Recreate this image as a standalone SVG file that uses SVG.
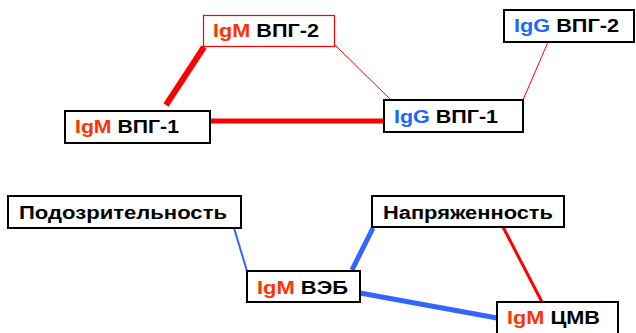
<svg xmlns="http://www.w3.org/2000/svg" width="636" height="333" viewBox="0 0 636 333">
  <style>
    .box { fill: #ffffff; stroke: #000000; stroke-width: 2; }
    .box-red { fill: #ffffff; stroke: #ff0000; stroke-width: 1.2; }
    .lbl { font-family: "Liberation Sans", Arial, sans-serif; font-weight: bold; font-size: 18px; fill: #000000; }
    .igm { fill: #ff3300; }
    .igg { fill: #1a66ff; }
    .red { stroke: #ff0000; fill: none; }
    .blue { stroke: #3366ff; fill: none; }
  </style>
  <rect width="636" height="333" fill="#ffffff"/>

  <g id="connectors">
    <line class="red" x1="166" y1="105" x2="204" y2="47" stroke-width="6"/>
    <line class="red" x1="210" y1="121" x2="384" y2="121" stroke-width="5"/>
    <line class="red" x1="334" y1="44" x2="391" y2="100" stroke-width="1"/>
    <line class="red" x1="548" y1="42" x2="523" y2="100" stroke-width="1"/>
    <line class="blue" x1="234" y1="228" x2="247" y2="271" stroke-width="2"/>
    <line class="blue" x1="352" y1="270" x2="373" y2="228" stroke-width="5"/>
    <line class="blue" x1="360" y1="293" x2="497" y2="318" stroke-width="5"/>
    <line class="red" x1="503" y1="227" x2="542" y2="302" stroke-width="3"/>
  </g>

  <g id="igm-vpg2">
    <rect class="box-red" x="203.5" y="15.5" width="131" height="31"/>
    <text class="lbl" x="213" y="37" textLength="106" lengthAdjust="spacingAndGlyphs"><tspan class="igm">IgM</tspan> ВПГ-2</text>
  </g>

  <g id="igg-vpg2">
    <rect class="box" x="504" y="10" width="130" height="32"/>
    <text class="lbl" x="514" y="32" textLength="105" lengthAdjust="spacingAndGlyphs"><tspan class="igg">IgG</tspan> ВПГ-2</text>
  </g>

  <g id="igm-vpg1">
    <rect class="box" x="65" y="111" width="145" height="32"/>
    <text class="lbl" x="75" y="133" textLength="104" lengthAdjust="spacingAndGlyphs"><tspan class="igm">IgM</tspan> ВПГ-1</text>
  </g>

  <g id="igg-vpg1">
    <rect class="box" x="384" y="100" width="139" height="32"/>
    <text class="lbl" x="394" y="123" textLength="104" lengthAdjust="spacingAndGlyphs"><tspan class="igg">IgG</tspan> ВПГ-1</text>
  </g>

  <g id="suspicion">
    <rect class="box" x="8" y="196" width="233" height="32"/>
    <text class="lbl" x="19" y="219" textLength="208" lengthAdjust="spacingAndGlyphs">Подозрительность</text>
  </g>

  <g id="tension">
    <rect class="box" x="372" y="196" width="192" height="31"/>
    <text class="lbl" x="383" y="219" textLength="170" lengthAdjust="spacingAndGlyphs">Напряженность</text>
  </g>

  <g id="igm-veb">
    <rect class="box" x="247" y="271" width="113" height="31"/>
    <text class="lbl" x="257" y="294" textLength="91" lengthAdjust="spacingAndGlyphs"><tspan class="igm">IgM</tspan> ВЭБ</text>
  </g>

  <g id="igm-cmv">
    <rect class="box" x="497" y="302" width="121" height="34"/>
    <text class="lbl" x="507" y="324" textLength="93" lengthAdjust="spacingAndGlyphs"><tspan class="igm">IgM</tspan> ЦМВ</text>
  </g>
</svg>
